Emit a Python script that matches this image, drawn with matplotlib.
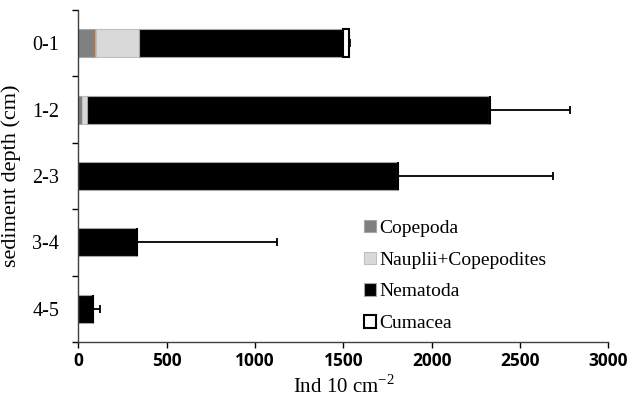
import matplotlib
matplotlib.use("Agg")
import matplotlib.pyplot as plt
from matplotlib.ticker import FixedLocator
import numpy as np

categories = ['0-1', '1-2', '2-3', '3-4', '4-5']
copepoda = [95, 20, 0, 0, 0]
other_orange = [4, 0, 0, 0, 0]
nauplii = [245, 30, 0, 0, 0]
nematoda = [1154, 2275, 1802, 333, 81]
other_purple = [0, 5, 0, 0, 0]
other_cyan = [0, 0, 5, 0, 3]
cumacea = [34, 0, 0, 0, 0]
errors = [8, 453, 878, 789, 38]

series = [
    ('Copepoda', copepoda, '#808080', '#a6a6a6', 0.8),
    ('_o', other_orange, '#f79646', '#f79646', 0.5),
    ('Nauplii+Copepodites', nauplii, '#d9d9d9', '#bfbfbf', 0.8),
    ('Nematoda', nematoda, '#000000', '#a6a6a6', 0.8),
    ('_p', other_purple, '#8064a2', '#8064a2', 0.5),
    ('_c', other_cyan, '#4bacc6', '#4bacc6', 0.5),
    ('Cumacea', cumacea, '#ffffff', '#000000', 1.5),
]

plt.rcParams['mathtext.fontset'] = 'custom'
plt.rcParams['mathtext.rm'] = 'Liberation Serif'

fig = plt.figure(figsize=(6.29, 4.0), dpi=100)
ax = fig.add_axes([0.1248, 0.145, 0.967 - 0.1248, 0.975 - 0.145])

y = np.arange(len(categories))
left = np.zeros(len(categories))
handles = {}
for name, vals, fc, ec, lw in series:
    v = np.array(vals, dtype=float)
    b = ax.barh(y, v, left=left, height=0.42, color=fc, edgecolor=ec,
                linewidth=lw, label=name, zorder=2)
    handles[name] = b
    left = left + v

ax.errorbar(left, y, xerr=[np.zeros(len(errors)), errors], fmt='none',
            ecolor='black', elinewidth=1.3, capsize=3, capthick=1.3, zorder=3)

ax.set_xlim(0, 3000)
ax.set_ylim(len(categories) - 0.5, -0.5)
ax.set_xticks([0, 500, 1000, 1500, 2000, 2500, 3000])
ax.set_xticklabels(['0', '500', '1000', '1500', '2000', '2500', '3000'],
                   fontfamily='Open Sans', fontweight='bold', fontsize=12.5)
ax.set_yticks(y)
ax.set_yticklabels(categories, fontfamily='Liberation Serif', fontsize=14.5)
ax.yaxis.set_minor_locator(FixedLocator(np.arange(-0.5, len(categories), 1.0)))
ax.tick_params(axis='y', which='major', length=0, pad=14)
ax.tick_params(axis='y', which='minor', length=4, width=1, direction='out')
ax.tick_params(axis='x', which='major', length=4, width=1, direction='out', pad=3)

for s in ['top', 'right']:
    ax.spines[s].set_visible(False)
for s in ['left', 'bottom']:
    ax.spines[s].set_linewidth(1.0)
    ax.spines[s].set_color('#404040')

ax.set_xlabel('Ind 10 cm$^{\\mathregular{-2}}$', fontfamily='Liberation Serif', fontsize=15, labelpad=4)
ax.set_ylabel('sediment depth (cm)', fontfamily='Liberation Serif', fontsize=16, labelpad=8)

leg = ax.legend([handles[n] for n in ['Copepoda', 'Nauplii+Copepodites', 'Nematoda', 'Cumacea']],
                ['Copepoda', 'Nauplii+Copepodites', 'Nematoda', 'Cumacea'],
                loc='upper left', bbox_to_anchor=(0.539, 0.368), frameon=False,
                prop={'family': 'Liberation Serif', 'size': 14},
                handlelength=0.6, handleheight=0.6, handletextpad=0.2,
                labelspacing=0.76, borderaxespad=0, borderpad=0)

fig.savefig('out.png', dpi=100)
